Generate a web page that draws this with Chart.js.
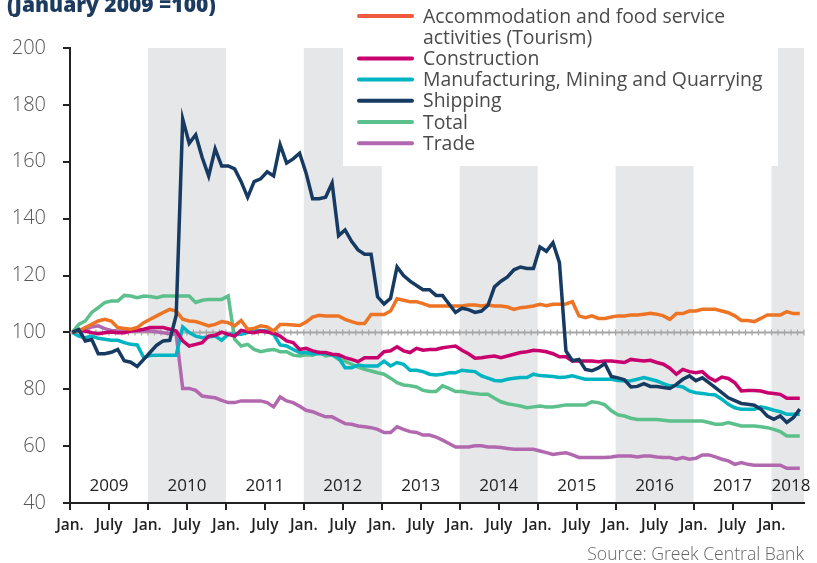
<!DOCTYPE html>
<html>
<head>
<meta charset="utf-8">
<script src="https://cdn.jsdelivr.net/npm/chart.js@4.4.1/dist/chart.umd.min.js"></script>
<style>
  html, body { margin: 0; padding: 0; background: #fff; }
  #wrap { width: 817px; height: 563px; }
</style>
</head>
<body>
<div id="wrap"><canvas id="chart" width="817" height="563"></canvas></div>
<script>
// Monthly index, January 2009 = 100, Jan. 2009 .. May 2018
const years = ['2009', '2010', '2011', '2012', '2013', '2014', '2015', '2016', '2017', '2018'];
const monthTicks = ['Jan.', 'July'];

const tourism = [
  100, 100.5, 101.7, 102.8, 104, 104.6, 104, 101.7, 101.4, 101.1, 101.7, 103.4,
  104.6, 105.8, 107, 108.1, 107.5, 104.6, 104, 103.8, 103.1, 102.3, 102.8, 103.8,
  103.4, 102.3, 104.2, 101.1, 101.4, 102.3, 101.9, 100.5, 102.8, 102.8, 102.6, 102.4,
  103.6, 105.4, 106, 105.8, 105.8, 105.8, 104.6, 103.8, 103.1, 103.1, 106.3, 106.3,
  106.3, 107.5, 111.8, 111.3, 110.8, 110.8, 110.1, 109.3, 109.3, 109.3, 109.3, 109.3,
  109.3, 109.6, 109.6, 109.3, 109.6, 109.3, 109.3, 108.9, 108.1, 108.7, 108.9, 109.3,
  109.9, 109.4, 109.9, 109.9, 110, 110.8, 105.8, 105.2, 105.8, 104.9, 104.9, 105.4,
  105.8, 105.8, 106.1, 106.1, 106.4, 106.7, 106.4, 105.8, 104.6, 106.6, 106.6, 107.5,
  107.5, 108.1, 108.1, 108.1, 107.5, 106.9, 105.8, 104.2, 104.2, 103.8, 104.9, 106.1,
  106.1, 106.1, 107.3, 106.6, 106.6
];
const construction = [
  100, 100.7, 100.5, 99.9, 99.5, 99.9, 100.1, 99.9, 99.9, 100.5, 100.7, 101.1,
  101.7, 101.7, 101.7, 101.1, 100.5, 97, 95.2, 95.8, 96.4, 98.7, 99, 100.1,
  99.3, 98.7, 100.7, 100.2, 99.9, 100.5, 100.1, 99.7, 98.7, 97, 96.4, 94,
  94.4, 93.5, 92.9, 92.9, 92.3, 92.1, 91.1, 90.5, 89.7, 91.1, 91.1, 91.1,
  93.2, 93.5, 94.9, 93.5, 92.9, 94.4, 93.7, 94, 94, 94.6, 94.9, 95.2,
  93.7, 92.5, 90.9, 91.1, 91.4, 91.7, 91.1, 91.7, 92.3, 92.9, 93.2, 93.7,
  93.5, 93.2, 92.5, 91.4, 91.4, 89.9, 89.9, 89.9, 89.9, 89.7, 89.9, 89.9,
  89.7, 89.4, 90.5, 90.2, 89.9, 90.2, 89.4, 88.8, 87.4, 85.3, 87, 86.2,
  85.8, 86.2, 84.1, 82.9, 84.3, 83.8, 82.3, 79.4, 79.6, 79.6, 79.4, 78.8,
  78.5, 78.2, 76.8, 76.8, 76.8
];
const manufacturing = [
  100, 98.7, 98.1, 98.7, 97.9, 97.6, 97.2, 97.2, 96.4, 95.8, 95.6, 91.1,
  91.9, 92, 92, 92, 92, 101.9, 99.9, 98.7, 98.1, 98.4, 98.7, 97.2,
  99.3, 99.3, 99.3, 99.9, 100.5, 100.7, 100.5, 99.3, 95.6, 95.2, 94, 92.9,
  93, 92.5, 92.6, 92.5, 92.1, 91.1, 87.6, 87.6, 88.5, 88.2, 88.2, 88.2,
  89.9, 88.2, 89.4, 88.8, 86.7, 86.7, 86.2, 85.3, 85, 85.3, 85.8, 85.8,
  86.7, 86.4, 86.2, 84.7, 83.9, 83.1, 82.9, 83.5, 83.9, 84.1, 84.1, 85.3,
  84.8, 84.7, 84.5, 84.1, 84.3, 84.7, 84.1, 83.5, 83.5, 83.5, 83.5, 83.5,
  83.1, 82.9, 83, 83.5, 84.1, 83.5, 82.9, 82, 81.2, 81.2, 80.8, 79.4,
  78.8, 78.5, 78.2, 78, 76.5, 74.7, 73.5, 73, 73, 73, 73.8, 73.3,
  72.6, 72.1, 71.2, 71.2, 71.2
];
const shipping = [
  100, 101, 97, 97.5, 92.5, 92.5, 93, 94, 90, 89.5, 88, 90.5,
  93, 95.5, 97, 97.2, 106, 175, 166.5, 169.5, 161.5, 155, 164.5, 158.5,
  158.5, 157.5, 153, 147.5, 153, 154, 156.5, 155, 166, 159.5, 161, 163,
  156, 147, 147, 147.5, 152.5, 134, 136, 132, 129, 127.5, 127.5, 112.5,
  110, 112, 123, 120, 118, 116.5, 115, 115, 113, 113, 110, 107,
  108.5, 108, 107, 107.5, 109.5, 116, 118, 119.5, 122, 123, 122.5, 122.5,
  130, 128.5, 131.5, 124.5, 93.5, 90, 90.5, 87, 86.5, 87.5, 89, 84.5,
  84, 83.3, 80.8, 81, 82, 81, 81, 80.6, 80.3, 81.7, 83.5, 84.7,
  83, 84, 82.3, 80.6, 78.8, 77, 76, 75, 74.7, 74.4, 73, 70.6,
  69.4, 70.6, 68.3, 70, 73
];
const total = [
  100, 102.8, 104, 107, 108.7, 110.5, 111, 111, 113, 112.8, 112.2, 112.8,
  112.6, 112.2, 112.8, 112.8, 112.8, 112.8, 112.8, 110.5, 111.3, 111.6, 111.6, 111.6,
  112.8, 97.6, 95.2, 95.8, 94, 93.2, 93.7, 94, 93.2, 93.2, 92, 91.7,
  92.1, 92, 93, 91.7, 92.1, 90.5, 89.9, 88.8, 87.8, 87, 86.4, 85.8,
  85.3, 83.9, 82.3, 81.5, 81.2, 80.8, 79.6, 79.2, 79.2, 81.2, 80.3, 79.2,
  79.2, 78.8, 78.5, 78.2, 78.2, 76.8, 75.6, 74.9, 74.5, 74.1, 73.5, 73.8,
  74.1, 73.8, 73.8, 74.1, 74.5, 74.5, 74.5, 74.5, 75.6, 75.3, 74.5, 72.4,
  71, 70.6, 69.8, 69.4, 69.4, 69.4, 69.4, 69.1, 68.8, 68.8, 68.8, 68.8,
  68.8, 68.8, 68.3, 67.7, 67.7, 68.3, 67.7, 67.1, 67.1, 67.1, 66.8, 66.5,
  65.9, 65.1, 63.6, 63.6, 63.6
];
const trade = [
  100, 100.5, 101.1, 101.9, 102.3, 101.3, 100.7, 100.5, 100.5, 100.7, 100.5, 100.7,
  100.5, 100.2, 99.9, 99.5, 99.3, 80.3, 80.3, 79.6, 77.6, 77.3, 77, 76.1,
  75.3, 75.3, 75.9, 75.9, 75.9, 75.9, 75.3, 73.8, 77.3, 75.9, 75.3, 74,
  72.6, 72.1, 71.2, 70.3, 70.3, 69.1, 67.9, 67.7, 67.1, 66.8, 66.5, 65.9,
  64.8, 64.8, 66.8, 65.9, 65.1, 64.8, 63.9, 63.9, 63.2, 62.1, 60.9, 59.7,
  59.7, 59.7, 60.1, 60.1, 59.7, 59.7, 59.5, 59.2, 58.9, 58.9, 58.9, 58.9,
  58.3, 57.7, 57.1, 57.4, 57.7, 56.9, 56, 56, 56, 56, 56, 56.2,
  56.5, 56.5, 56.5, 56.2, 56.5, 56.5, 56.2, 56, 56, 55.4, 56, 55.4,
  55.7, 56.9, 56.9, 56.2, 55.4, 54.8, 53.6, 54.2, 53.6, 53.3, 53.3, 53.3,
  53.3, 53.3, 52.2, 52.2, 52.2
];

const MONTHS = years.length * 12 - 7;   // x axis runs to June 2018
const series = [
  { label: ['Accommodation and food service', 'activities (Tourism)'], data: tourism, color: '#ec7424', key: '#f15a40' },
  { label: ['Construction'], data: construction, color: '#c8006e' },
  { label: ['Manufacturing, Mining and Quarrying'], data: manufacturing, color: '#00b4c2' },
  { label: ['Shipping'], data: shipping, color: '#163a61' },
  { label: ['Total'], data: total, color: '#5cc08c' },
  { label: ['Trade'], data: trade, color: '#b168ae' }
];

const SANS = "'Open Sans', 'Noto Sans', sans-serif";

const decor = {
  id: 'decor',
  beforeDraw(chart) {
    const { ctx, chartArea: a, scales: { x, y } } = chart;
    const top = y.getPixelForValue(200);
    ctx.save();
    // alternate year bands
    ctx.fillStyle = '#e6e7e8';
    years.forEach((yr, k) => {
      if (k % 2 === 1) {
        const x0 = x.getPixelForValue(k * 12);
        const x1 = x.getPixelForValue(Math.min(k * 12 + 12, MONTHS));
        ctx.fillRect(x0, top, x1 - x0, a.bottom - top);
      }
    });
    // white legend panel
    ctx.fillStyle = '#fff';
    ctx.fillRect(343, 0, 435, 166);
    // year labels
    ctx.fillStyle = '#222';
    ctx.font = '500 17px ' + SANS;
    ctx.textAlign = 'center';
    ctx.textBaseline = 'middle';
    years.forEach((yr, k) => {
      const mid = Math.min(k * 12 + 6, (k * 12 + MONTHS) / 2 + 0.5);
      ctx.fillText(yr, x.getPixelForValue(mid), 486);
    });
    ctx.restore();
  },
  beforeDatasetsDraw(chart) {
    const { ctx, chartArea: a, scales: { x, y } } = chart;
    const yy = y.getPixelForValue(100);
    ctx.save();
    ctx.strokeStyle = '#a6a6a6';
    ctx.lineWidth = 2;
    ctx.beginPath();
    ctx.moveTo(a.left, yy);
    ctx.lineTo(a.right, yy);
    ctx.stroke();
    ctx.lineWidth = 1.2;
    ctx.beginPath();
    for (let m = 1; m <= MONTHS; m++) {
      const px = x.getPixelForValue(m);
      ctx.moveTo(px, yy - 3);
      ctx.lineTo(px, yy + 3);
    }
    ctx.stroke();
    ctx.restore();
  },
  afterDraw(chart) {
    const { ctx } = chart;
    ctx.save();
    // title, cut at the top as in the source
    ctx.fillStyle = '#1c3b5e';
    ctx.font = '800 21px ' + SANS;
    ctx.textAlign = 'left';
    ctx.textBaseline = 'alphabetic';
    ctx.fillText('(January 2009 =100)', 7, 12);
    // legend
    ctx.font = '19.4px ' + SANS;
    ctx.textBaseline = 'middle';
    let row = 0;
    series.forEach(s => {
      const yy = 16 + row * 21.2;
      ctx.strokeStyle = s.key || s.color;
      ctx.lineWidth = 4;
      ctx.lineCap = 'round';
      ctx.beginPath();
      ctx.moveTo(359, yy);
      ctx.lineTo(412, yy);
      ctx.stroke();
      ctx.fillStyle = '#4a4a4a';
      s.label.forEach((t, j) => ctx.fillText(t, 423, yy + 1 + j * 21.2));
      row += s.label.length;
    });
    // source
    ctx.fillStyle = '#666';
    ctx.font = '300 17.6px ' + SANS;
    ctx.textAlign = 'right';
    ctx.fillText('Source: Greek Central Bank', 804, 555);
    ctx.restore();
  }
};

new Chart(document.getElementById('chart'), {
  type: 'line',
  data: {
    datasets: series.map((s, n) => ({
      label: s.label.join(' '),
      data: s.data.map((v, i) => ({ x: i + 0.35, y: v })),
      borderColor: s.color,
      backgroundColor: s.color,
      borderWidth: 3.5,
      pointRadius: 0,
      tension: 0,
      order: s.label[0] === 'Shipping' ? 0 : n + 1
    }))
  },
  options: {
    responsive: false,
    animation: false,
    layout: { padding: { top: 48, right: 13, left: 0, bottom: 0 } },
    plugins: { legend: { display: false }, tooltip: { enabled: false } },
    scales: {
      x: {
        type: 'linear',
        min: 0,
        max: MONTHS,
        afterBuildTicks(scale) {
          const t = [];
          for (let v = 0; v < MONTHS; v += 6) t.push({ value: v });
          scale.ticks = t;
        },
        afterFit(scale) { scale.height = 60; },
        ticks: {
          autoSkip: false,
          maxRotation: 0,
          padding: 6,
          color: '#222',
          font: { family: SANS, size: 15.5, weight: '600' },
          callback: v => monthTicks[(v % 12) / 6]
        },
        grid: { drawOnChartArea: false, drawTicks: true, tickLength: 7, color: '#222', lineWidth: 2 },
        border: { display: true, color: '#222', width: 2 }
      },
      y: {
        min: 40,
        max: 200,
        afterFit(scale) { scale.width = 70; },
        ticks: {
          stepSize: 20,
          padding: 17,
          color: '#555',
          font: { family: SANS, size: 20, weight: '300' }
        },
        grid: { drawOnChartArea: false, drawTicks: true, tickLength: 7, color: '#222', lineWidth: 2 },
        border: { display: true, color: '#222', width: 2 }
      }
    }
  },
  plugins: [decor]
});
</script>
</body>
</html>
